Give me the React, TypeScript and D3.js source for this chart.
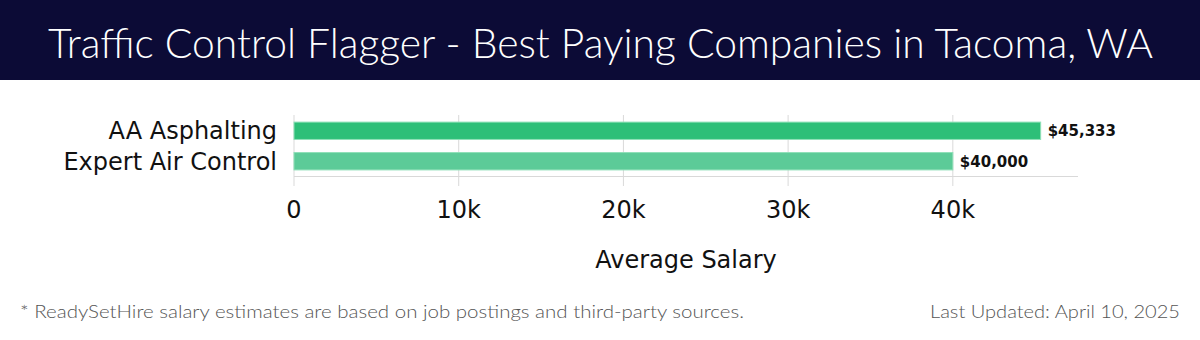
import React, { useEffect } from "react";
import * as d3 from "d3";

const companies = ["AA Asphalting", "Expert Air Control"];
const salaries = [45333, 40000];
const barColors = ["#2dbf78", "#5ccb98"];
const tickValues = [0, 10000, 20000, 30000, 40000];
const titleText = "Traffic Control Flagger - Best Paying Companies in Tacoma, WA";
const footLeft = "* ReadySetHire salary estimates are based on job postings and third-party sources.";
const footRight = "Last Updated: April 10, 2025";

const W = 1200;
const H = 340;

export default function App() {
  useEffect(() => {
    document.body.style.margin = "0";
  }, []);

  const x = d3.scaleLinear().domain([0, d3.max(salaries)! * 1.05]).range([294, 1078]);
  const y = d3.scaleBand().domain(companies).range([116, 176]).paddingInner(0.43).paddingOuter(0.2);
  const fmt = d3.format(",");
  const tickFmt = (v: number) => (v === 0 ? "0" : `${v / 1000}k`);
  const sans = "'DejaVu Sans', sans-serif";
  const light = "Lato, 'Open Sans', sans-serif";

  return (
    <svg width={W} height={H} style={{ display: "block" }}>
      <rect x={0} y={0} width={W} height={80} fill="#0c0b36" />
      <text
        x={48}
        y={58}
        fill="#ffffff"
        fontFamily={light}
        fontWeight={300}
        fontSize={41}
        textLength={1105}
        lengthAdjust="spacingAndGlyphs"
      >
        {titleText}
      </text>

      {tickValues.map((t) => (
        <line key={"g" + t} x1={x(t)} x2={x(t)} y1={115} y2={186} stroke="#d9d9d9" strokeWidth={1} />
      ))}
      <line x1={x(0)} x2={x.range()[1]} y1={176.5} y2={176.5} stroke="#d9d9d9" strokeWidth={1} />

      {companies.map((c, i) => (
        <g key={c}>
          <rect
            x={x(0)}
            y={y(c)!}
            width={x(salaries[i]) - x(0)}
            height={y.bandwidth()}
            fill={barColors[i]}
            stroke="#8fe0b8"
            strokeWidth={1}
          />
          <text
            x={277}
            y={y(c)! + y.bandwidth() / 2}
            dy="0.36em"
            textAnchor="end"
            fontFamily={sans}
            fontSize={24}
            fill="#111"
          >
            {c}
          </text>
          <text
            x={x(salaries[i]) + 7}
            y={y(c)! + y.bandwidth() / 2}
            dy="0.36em"
            fontFamily={sans}
            fontWeight="bold"
            fontSize={15}
            fill="#111"
          >
            ${fmt(salaries[i])}
          </text>
        </g>
      ))}

      {tickValues.map((t) => (
        <text key={"t" + t} x={x(t)} y={218} textAnchor="middle" fontFamily={sans} fontSize={24} fill="#111">
          {tickFmt(t)}
        </text>
      ))}
      <text x={(x.range()[0] + x.range()[1]) / 2} y={268} textAnchor="middle" fontFamily={sans} fontSize={24} fill="#111">
        Average Salary
      </text>

      <text x={20} y={318} fontFamily={light} fontWeight={300} fontSize={18} fill="#555" textLength={724} lengthAdjust="spacingAndGlyphs">
        {footLeft}
      </text>
      <text x={1180} y={318} textAnchor="end" fontFamily={light} fontWeight={300} fontSize={18} fill="#555" textLength={250} lengthAdjust="spacingAndGlyphs">
        {footRight}
      </text>
    </svg>
  );
}
